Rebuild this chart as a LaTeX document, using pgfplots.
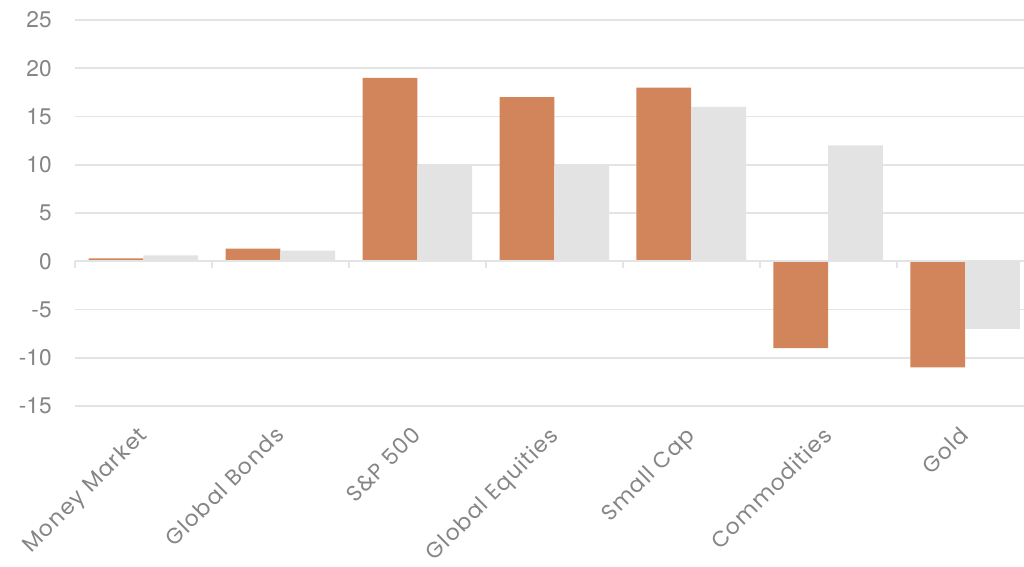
\documentclass[border=0pt]{standalone}
\usepackage{pgfplots}
\pgfplotsset{compat=1.18}
\usepackage{fontspec}
\setmainfont{Poppins}[LetterSpace=5]
\newfontfamily\numfont{TeX Gyre Heros}
\definecolor{barorange}{HTML}{D2845A}
\definecolor{bargray}{HTML}{E3E3E3}
\definecolor{gridc}{HTML}{E4E4E4}
\definecolor{txt}{HTML}{858585}
\begin{document}
\begin{tikzpicture}
\begin{axis}[
  name=ax,
  scale only axis,
  width=711.75pt, height=289.5pt,
  xmin=-0.5, xmax=6.43,
  ymin=-15, ymax=25,
  ytick={-15,-10,...,25},
  ymajorgrids,
  grid style={gridc, line width=1.3pt},
  axis line style={draw=none},
  major tick length=0pt,
  xtick={0,...,6},
  xticklabels={Money Market,Global Bonds,S\&P 500,Global Equities,Small Cap,Commodities,Gold},
  x tick label style={xshift=-5pt, yshift=-2pt, rotate=45, anchor=north east, inner sep=0pt, font=\fontsize{16.5}{17}\selectfont, text=txt},
  xticklabel shift=12pt,
  y tick label style={font=\numfont\fontsize{17}{18}\selectfont, text=txt},
  /pgf/number format/assume math mode=true,
  yticklabel style={xshift=-14pt},
  ybar=0pt,
  bar width=0.4,
  clip=false,
]
\addplot[fill=barorange, draw=none] coordinates {(0,0.3) (1,1.3) (2,19) (3,17) (4,18) (5,-9) (6,-11)};
\addplot[fill=bargray, draw=none] coordinates {(0,0.6) (1,1.1) (2,10) (3,10) (4,16) (5,12) (6,-7)};
\draw[gridc, line width=1.3pt] (axis cs:-0.5,0) -- (axis cs:6.43,0);
\pgfplotsinvokeforeach{-0.5,0.5,1.5,2.5,3.5,4.5,5.5}{
  \draw[gridc, line width=1.3pt] (axis cs:#1,0) -- ([yshift=-5pt]axis cs:#1,0);
}
\end{axis}
\pgfresetboundingbox
\path[use as bounding box] ([shift={(-56.25pt,-120.75pt)}]ax.south west) rectangle ([shift={(0pt,15pt)}]ax.north east);
\end{tikzpicture}
\end{document}
